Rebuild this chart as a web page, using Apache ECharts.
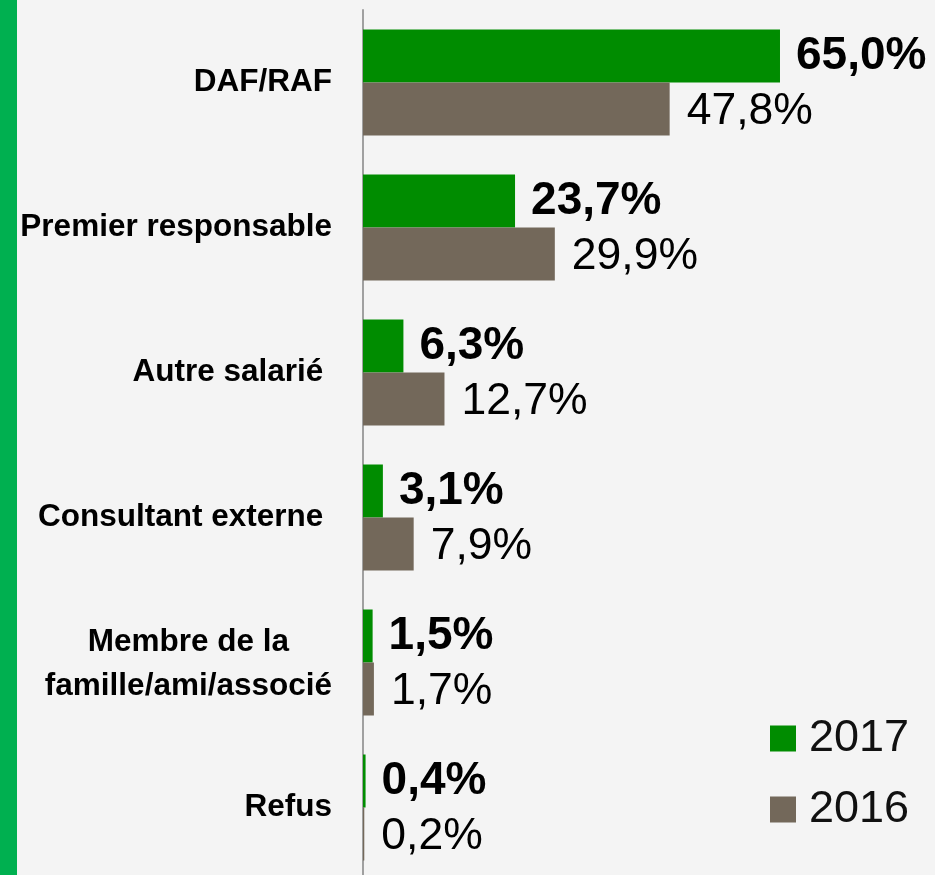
<!DOCTYPE html>
<html>
<head>
<meta charset="utf-8">
<script src="https://cdn.jsdelivr.net/npm/echarts@6/dist/echarts.min.js"></script>
<style>
  html, body { margin: 0; padding: 0; background: #f4f4f4; }
  #main { width: 935px; height: 875px; }
</style>
</head>
<body>
<div id="main"></div>
<script>
// categories, top to bottom
var categories = ['DAF/RAF', 'Premier responsable', 'Autre salarié ', 'Consultant externe ', 'Membre de la\nfamille/ami/associé', 'Refus'];
var years = ['2017', '2016'];
var values2017 = [65.0, 23.7, 6.3, 3.1, 1.5, 0.4];
var values2016 = [47.8, 29.9, 12.7, 7.9, 1.7, 0.2];

var green = '#008c00';
var brown = '#73685a';

// virgule comme séparateur décimal
function pct(p) {
	return p.value.toFixed(1).replace('.', ',') + '%';
}

var myChart = echarts.init(document.getElementById('main'));

var option = {
	backgroundColor: '#f4f4f4',
	animation: false,
	graphic: [
		{ type: 'rect', left: 0, top: 0, shape: { width: 17, height: 875 }, style: { fill: '#00b050' } }
	],
	legend: {
		data: years,
		orient: 'vertical',
		left: 770,
		top: 716,
		padding: 0,
		icon: 'rect',
		itemWidth: 26,
		itemHeight: 26,
		itemGap: 26,
		textStyle: { fontSize: 45, lineHeight: 44, color: '#111', fontFamily: 'Liberation Sans', padding: [0, 0, 0, 8] }
	},
	// 6.415 px par point de %
	grid: { left: 363, top: 10, width: 545.3, height: 870, containLabel: false, outerBoundsMode: 'none' },
	xAxis: {
		type: 'value',
		min: 0,
		max: 85,
		show: false,
		splitLine: { show: false }
	},
	yAxis: {
		type: 'category',
		inverse: true,
		data: categories,
		axisTick: { show: false },
		axisLine: { show: true, lineStyle: { color: '#a0a0a0', width: 2 } },
		axisLabel: {
			margin: 31,
			color: '#000',
			fontSize: 31.5,
			fontWeight: 'bold',
			fontFamily: 'Liberation Sans',
			formatter: function (v) {
				if (v.indexOf('\n') >= 0) {
					return v.split('\n').map(function (s) { return '{c|' + s + '}'; }).join('\n');
				}
				return v;
			},
			rich: {
				c: { align: 'center', fontSize: 31.5, fontWeight: 'bold', fontFamily: 'Liberation Sans', color: '#000', lineHeight: 44, padding: [4, 0, 0, 0] }
			}
		}
	},
	series: [
		{
			name: '2017',
			type: 'bar',
			data: values2017,
			barWidth: 53,
			barGap: '0%',
			itemStyle: { color: green },
			label: {
				show: true,
				position: 'right',
				distance: 16,
				formatter: pct,
				color: '#000',
				fontSize: 46,
				fontWeight: 'bold',
				fontFamily: 'Liberation Sans'
			}
		},
		{
			name: '2016',
			type: 'bar',
			data: values2016,
			barWidth: 53,
			barGap: '0%',
			itemStyle: { color: brown },
			label: {
				show: true,
				position: 'right',
				distance: 17,
				offset: [0, 3],
				formatter: pct,
				color: '#000',
				fontSize: 44.5,
				fontWeight: 'normal',
				fontFamily: 'Liberation Sans'
			}
		}
	]
};

myChart.setOption(option);
</script>
</body>
</html>
